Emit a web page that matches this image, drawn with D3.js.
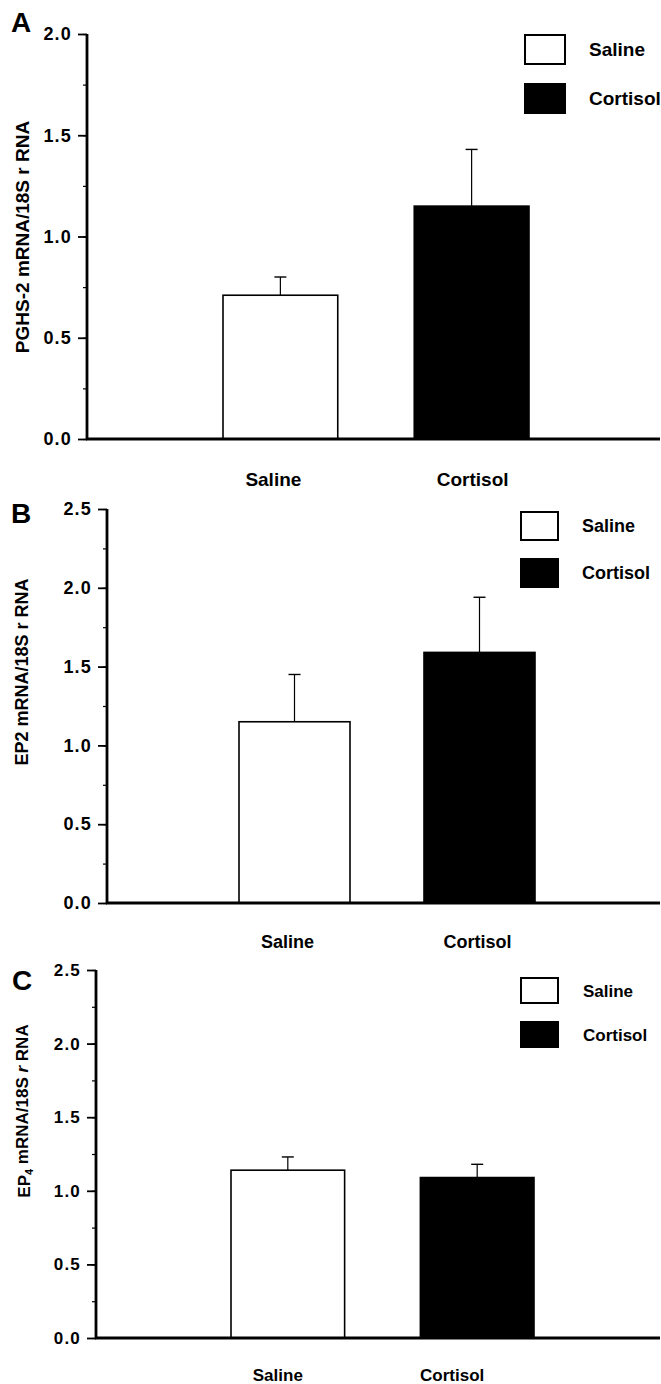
<!DOCTYPE html>
<html>
<head>
<meta charset="utf-8">
<script src="https://cdn.jsdelivr.net/npm/d3@7"></script>
<style>
  body { margin: 0; background: #fff; }
  text { font-family: "Liberation Sans", Arial, sans-serif; font-weight: bold; fill: #000; }
</style>
</head>
<body>
<div id="chart"></div>
<script>
// groups and values (mean, SEM)
var groups = ["Saline", "Cortisol"];

var pghs2Mean = [0.71, 1.15];
var pghs2Sem  = [0.09, 0.28];

var ep2Mean = [1.15, 1.59];
var ep2Sem  = [0.30, 0.35];

var ep4Mean = [1.14, 1.09];
var ep4Sem  = [0.09, 0.09];

var ticksA = [0, 0.5, 1.0, 1.5, 2.0];
var ticksBC = [0, 0.5, 1.0, 1.5, 2.0, 2.5];

var W = 661, H = 1384;

var svg = d3.select("#chart").append("svg")
  .attr("width", W)
  .attr("height", H);

// panel layout (pixels)
var panels = [
  { letter: "A", letterX: 11, letterY: 32,
    mean: pghs2Mean, sem: pghs2Sem, ticks: ticksA, yMax: 2.0,
    axisX: 87, top: 34, bottom: 439, barRange: [223, 529],
    tickFont: 18, labelY: 486, labelShift: [-7, 1], labelFont: 19,
    legX: 525, legY: [35, 84], legW: 40, legH: 29, legTextX: 589, legFont: 19,
    ylab: "A", ylabX: 22, ylabY: 237, ylabFont: 19 },
  { letter: "B", letterX: 11, letterY: 523,
    mean: ep2Mean, sem: ep2Sem, ticks: ticksBC, yMax: 2.5,
    axisX: 107, top: 509, bottom: 903, barRange: [239, 535],
    tickFont: 18, labelY: 948, labelShift: [-7, -2], labelFont: 18,
    legX: 521, legY: [512, 559], legW: 37, legH: 28, legTextX: 582, legFont: 18,
    ylab: "B", ylabX: 22, ylabY: 672, ylabFont: 18 },
  { letter: "C", letterX: 12, letterY: 990,
    mean: ep4Mean, sem: ep4Sem, ticks: ticksBC, yMax: 2.5,
    axisX: 96, top: 970, bottom: 1338, barRange: [231, 534],
    tickFont: 17, labelY: 1381, labelShift: [-10, -25], labelFont: 17,
    legX: 521, legY: [978, 1022], legW: 37, legH: 25, legTextX: 583, legFont: 17,
    ylab: "C", ylabX: 24, ylabY: 1111, ylabFont: 17 }
];

panels.forEach(function(p) {
  var g = svg.append("g").attr("class", "panel panel" + p.letter);

  var y = d3.scaleLinear().domain([0, p.yMax]).range([p.bottom, p.top]);
  var x = d3.scaleBand().domain(groups).range(p.barRange)
    .paddingInner(0.4).paddingOuter(0);

  // minor ticks every 0.25
  var minor = d3.range(0, p.yMax + 0.001, 0.25);
  var minorAxis = d3.axisLeft(y).tickValues(minor).tickSize(4).tickFormat("");
  g.append("g")
    .attr("transform", "translate(" + p.axisX + ",0)")
    .call(minorAxis)
    .call(function(s) {
      s.select(".domain").remove();
      s.selectAll("line").attr("stroke-width", 1.2);
    });

  var yAxis = d3.axisLeft(y).tickValues(p.ticks).tickSize(9).tickPadding(6)
    .tickFormat(d3.format(".1f"));
  g.append("g")
    .attr("transform", "translate(" + p.axisX + ",0)")
    .call(yAxis)
    .call(function(s) {
      s.select(".domain").remove();
      s.selectAll("line").attr("stroke-width", 1.8);
      s.selectAll("text")
        .style("font-family", "'Liberation Sans', Arial, sans-serif")
        .style("font-weight", "bold")
        .style("font-size", p.tickFont + "px")
        .style("letter-spacing", "1.2px")
        .attr("fill", "#000");
    });

  // bars
  g.selectAll(".bar")
    .data(groups).enter()
    .append("rect")
    .attr("class", "bar")
    .attr("x", function(d) { return x(d); })
    .attr("width", x.bandwidth())
    .attr("y", function(d, i) { return y(p.mean[i]); })
    .attr("height", function(d, i) { return y(0) - y(p.mean[i]); })
    .attr("fill", function(d, i) { return i === 0 ? "#fff" : "#000"; })
    .attr("stroke", "#000")
    .attr("stroke-width", 1.6);

  // error bars (upper only)
  var err = g.selectAll(".err")
    .data(groups).enter()
    .append("g")
    .attr("class", "err");
  err.append("line")
    .attr("x1", function(d) { return x(d) + x.bandwidth() / 2; })
    .attr("x2", function(d) { return x(d) + x.bandwidth() / 2; })
    .attr("y1", function(d, i) { return y(p.mean[i]); })
    .attr("y2", function(d, i) { return y(p.mean[i] + p.sem[i]); })
    .attr("stroke", "#000")
    .attr("stroke-width", 1.2);
  err.append("line")
    .attr("x1", function(d) { return x(d) + x.bandwidth() / 2 - 6; })
    .attr("x2", function(d) { return x(d) + x.bandwidth() / 2 + 6; })
    .attr("y1", function(d, i) { return y(p.mean[i] + p.sem[i]); })
    .attr("y2", function(d, i) { return y(p.mean[i] + p.sem[i]); })
    .attr("stroke", "#000")
    .attr("stroke-width", 1.4);

  // axis lines
  g.append("line")
    .attr("x1", p.axisX).attr("x2", p.axisX)
    .attr("y1", y(p.yMax)).attr("y2", y(0) + 1)
    .attr("stroke", "#000").attr("stroke-width", 2.8);
  g.append("line")
    .attr("x1", p.axisX - 1).attr("x2", 660)
    .attr("y1", y(0)).attr("y2", y(0))
    .attr("stroke", "#000").attr("stroke-width", 2.8);

  // category labels under the axis
  g.selectAll(".cat")
    .data(groups).enter()
    .append("text")
    .attr("class", "cat")
    .attr("x", function(d, i) { return x(d) + x.bandwidth() / 2 + p.labelShift[i]; })
    .attr("y", p.labelY)
    .attr("text-anchor", "middle")
    .style("font-size", p.labelFont + "px")
    .text(function(d) { return d; });

  // legend
  var leg = g.selectAll(".leg")
    .data(groups).enter()
    .append("g")
    .attr("class", "leg");
  leg.append("rect")
    .attr("x", p.legX)
    .attr("y", function(d, i) { return p.legY[i]; })
    .attr("width", p.legW)
    .attr("height", p.legH)
    .attr("fill", function(d, i) { return i === 0 ? "#fff" : "#000"; })
    .attr("stroke", "#000")
    .attr("stroke-width", 2);
  leg.append("text")
    .attr("x", p.legTextX)
    .attr("y", function(d, i) { return p.legY[i] + p.legH / 2; })
    .attr("dy", "0.36em")
    .style("font-size", p.legFont + "px")
    .text(function(d) { return d; });

  // panel letter
  g.append("text")
    .attr("x", p.letterX)
    .attr("y", p.letterY)
    .style("font-size", "28px")
    .text(p.letter);

  // y axis title
  var t = g.append("text")
    .attr("transform", "translate(" + p.ylabX + "," + p.ylabY + ") rotate(-90)")
    .attr("text-anchor", "middle")
    .attr("dy", "0.36em")
    .style("font-size", p.ylabFont + "px");
  if (p.ylab === "A") {
    t.text("PGHS-2 mRNA/18S r RNA");
  } else if (p.ylab === "B") {
    t.text("EP2 mRNA/18S r RNA");
  } else {
    t.append("tspan").text("EP");
    t.append("tspan").attr("dy", "0.3em").style("font-size", "11px").text("4");
    t.append("tspan").attr("dy", "-0.3em").text(" mRNA/18S ");
    t.append("tspan").style("font-style", "italic").text("r");
    t.append("tspan").text(" RNA");
  }
});
</script>
</body>
</html>
